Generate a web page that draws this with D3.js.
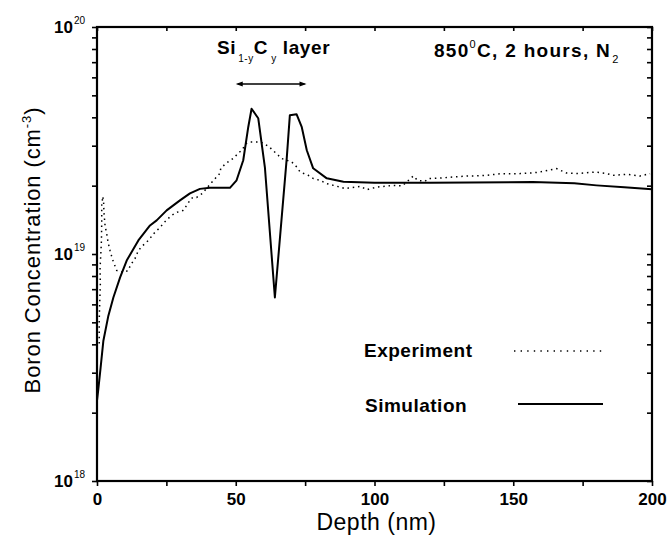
<!DOCTYPE html>
<html><head><meta charset="utf-8">
<script src="https://cdn.jsdelivr.net/npm/d3@7"></script>
<style>body{margin:0;background:#fff}svg{display:block}text{font-family:"Liberation Sans",Arial,sans-serif;fill:#000}</style>
</head><body><svg id="c" width="669" height="537"></svg>
<script>
// Simulation (depth nm, boron concentration cm^-3)
const simDepth = [0,0.5,1.3,2.3,4.1,5.9,8.3,10.7,14.9,19.1,21.5,25.1,27.5,29.9,33.5,37.1,40.7,47.9,50.3,52.7,54.5,55.7,58.1,60.5,64.1,68.4,69.5,71.9,73.8,75.6,77.9,82.8,88.8,100,120,157,172,180,190,200];
const simConc  = [2.26e18,2.55e18,3.16e18,4.15e18,5.35e18,6.43e18,7.87e18,9.36e18,1.147e19,1.336e19,1.406e19,1.556e19,1.637e19,1.722e19,1.85e19,1.936e19,1.956e19,1.956e19,2.112e19,2.588e19,3.619e19,4.366e19,3.964e19,2.41e19,6.43e18,2.667e19,4.088e19,4.13e19,3.62e19,2.864e19,2.385e19,2.154e19,2.08e19,2.058e19,2.06e19,2.075e19,2.048e19,2.006e19,1.966e19,1.927e19];
// Experiment (SIMS)
const expDepth = [0.8,0.8,1.0,1.2,1.1,1.4,1.6,1.7,1.7,2.1,2.4,2.5,2.9,3.6,4.0,4.7,5.6,7.1,9.5,11.3,12.0,13.7,14.9,16.5,18.5,20.5,22.7,24.9,26.9,28.7,31.1,33.5,34.5,35.9,38,40.7,42,44.3,44.6,46.5,49.1,50.9,52.1,53.9,55.1,58.1,59.9,62.1,65.3,66.6,68.4,70.2,72,73.2,76.1,78,80.4,82.8,85.2,87.6,89.4,90.6,93.6,95,97.2,100.8,104.4,106.8,110,114,115.5,118.2,119.4,123.6,128.4,133.2,136.2,140.4,145.8,149,152.4,156.6,159.6,162.6,165.6,169.2,173.4,176.5,179.5,183.7,186.1,190.9,195.7,199.3];
const expConc  = [4.03e18,5.09e18,6.23e18,7.33e18,8.63e18,1.015e19,1.147e19,1.378e19,1.637e19,1.795e19,1.671e19,1.525e19,1.336e19,1.207e19,1.124e19,1.036e19,9.46e18,8.46e18,8.29e18,8.46e18,8.90e18,9.55e18,1.036e19,1.090e19,1.147e19,1.232e19,1.309e19,1.406e19,1.479e19,1.525e19,1.556e19,1.723e19,1.776e19,1.776e19,1.850e19,2.027e19,2.111e19,2.267e19,2.385e19,2.509e19,2.640e19,2.778e19,2.864e19,3.075e19,3.116e19,3.116e19,3.084e19,2.961e19,2.722e19,2.632e19,2.587e19,2.543e19,2.417e19,2.297e19,2.222e19,2.148e19,2.111e19,2.041e19,2.006e19,1.971e19,1.940e19,1.951e19,1.975e19,1.986e19,1.920e19,1.971e19,1.992e19,2.006e19,1.996e19,2.206e19,2.111e19,2.090e19,2.148e19,2.161e19,2.183e19,2.206e19,2.206e19,2.222e19,2.260e19,2.256e19,2.260e19,2.274e19,2.297e19,2.338e19,2.378e19,2.274e19,2.260e19,2.280e19,2.297e19,2.260e19,2.222e19,2.244e19,2.206e19,2.260e19];
const xTicks = [0,50,100,150,200];
const xMinor = [25,75,125,175];
const yDecades = [18,19,20];
const legendLabels = ["Experiment","Simulation"];

const svg = d3.select("#c");
const L=97,R=652,T=27,B=481;
const x = d3.scaleLinear().domain([0,200]).range([L,R]);
const y = d3.scaleLog().domain([1e18,1e20]).range([B,T]);

const yMinorVals=[];
for(let e=18;e<20;e++) for(let m=2;m<=9;m++) yMinorVals.push(m*Math.pow(10,e));

const gB = svg.append("g").attr("transform",`translate(0,${B})`)
  .call(d3.axisBottom(x).tickValues(xTicks.concat(xMinor)).tickSize(5).tickFormat(d=>xTicks.includes(d)?d:""));
gB.selectAll("text").attr("font-size",17).attr("font-weight","bold").attr("dy","0.95em");
const gT = svg.append("g").attr("transform",`translate(0,${T})`)
  .call(d3.axisBottom(x).tickValues(xTicks.concat(xMinor)).tickSize(4).tickFormat(""));
const gL = svg.append("g").attr("transform",`translate(${L},0)`)
  .call(d3.axisLeft(y).tickValues(yDecades.map(e=>Math.pow(10,e)).concat(yMinorVals)).tickSize(5).tickFormat(""));
const gR = svg.append("g").attr("transform",`translate(${R},0)`)
  .call(d3.axisLeft(y).tickValues(yDecades.map(e=>Math.pow(10,e)).concat(yMinorVals)).tickSize(5).tickFormat(""));
[gB,gT,gL,gR].forEach(g=>{g.select(".domain").remove();g.selectAll("line").attr("stroke","#000").attr("stroke-width",1.6);});
svg.append("rect").attr("x",L).attr("y",T).attr("width",R-L).attr("height",B-T)
  .attr("fill","none").attr("stroke","#000").attr("stroke-width",2.2);

yDecades.forEach(e=>{
  svg.append("text").attr("x",73).attr("y",y(Math.pow(10,e))+6).attr("text-anchor","end")
    .attr("font-size",17).attr("font-weight","bold").text("10");
  svg.append("text").attr("x",74).attr("y",y(Math.pow(10,e))-3).attr("font-size",10).text(String(e));
});

svg.append("text").attr("x",(L+R)/2+2).attr("y",530).attr("text-anchor","middle").attr("font-size",23).attr("letter-spacing",0.5).text("Depth (nm)");
const yt = svg.append("text").attr("transform",`translate(40,250) rotate(-90)`).attr("text-anchor","middle").attr("font-size",22).attr("letter-spacing",0.9);
yt.append("tspan").text("Boron Concentration (cm");
yt.append("tspan").attr("font-size",13).attr("dy",-9).text("-3");
yt.append("tspan").attr("dy",9).text(")");

const line = (xs,ys)=>d3.line().x((d,i)=>x(xs[i])).y((d,i)=>y(ys[i]))(xs);
svg.append("path").attr("d",line(expDepth,expConc)).attr("fill","none").attr("stroke","#000")
  .attr("stroke-width",1.5).attr("stroke-dasharray","1.5,3.8");
svg.append("path").attr("d",line(simDepth,simConc)).attr("fill","none").attr("stroke","#000")
  .attr("stroke-width",2).attr("stroke-linejoin","round");

const an = svg.append("text").attr("x",217).attr("y",54).attr("font-size",19).attr("font-weight","bold").attr("letter-spacing",0.6);
an.append("tspan").text("Si");
an.append("tspan").attr("font-size",10).attr("font-weight","normal").attr("dy",8).attr("dx",2).text("1-y");
an.append("tspan").attr("dy",-8).text("C");
an.append("tspan").attr("font-size",10).attr("font-weight","normal").attr("dy",8).attr("dx",3).text("y");
an.append("tspan").attr("dy",-8).attr("dx",6).text("layer");
const ay=84, ax1=x(50), ax2=x(75.5);
svg.append("line").attr("x1",ax1+2).attr("x2",ax2-2).attr("y1",ay).attr("y2",ay).attr("stroke","#000").attr("stroke-width",1.3);
svg.append("path").attr("d",`M${ax1},${ay} l7,-2.5 l0,5 Z M${ax2},${ay} l-7,-2.5 l0,5 Z`).attr("fill","#000");

const ct = svg.append("text").attr("x",434).attr("y",57).attr("font-size",19).attr("font-weight","bold").attr("letter-spacing",1.3);
ct.append("tspan").text("850");
ct.append("tspan").attr("font-size",11).attr("font-weight","normal").attr("dy",-9).text("0");
ct.append("tspan").attr("dy",9).text("C, 2 hours, N");
ct.append("tspan").attr("font-size",11).attr("font-weight","normal").attr("dy",6).attr("dx",1).text("2");

svg.append("text").attr("x",364).attr("y",357).attr("font-size",19).attr("font-weight","bold").attr("letter-spacing",0.5).text(legendLabels[0]);
svg.append("text").attr("x",365).attr("y",412).attr("font-size",19).attr("font-weight","bold").attr("letter-spacing",0.5).text(legendLabels[1]);
svg.append("line").attr("x1",514).attr("x2",603).attr("y1",351).attr("y2",351).attr("stroke","#000").attr("stroke-width",1.4).attr("stroke-dasharray","1.4,5.2");
svg.append("line").attr("x1",518).attr("x2",603).attr("y1",404).attr("y2",404).attr("stroke","#000").attr("stroke-width",1.8);
</script></body></html>
